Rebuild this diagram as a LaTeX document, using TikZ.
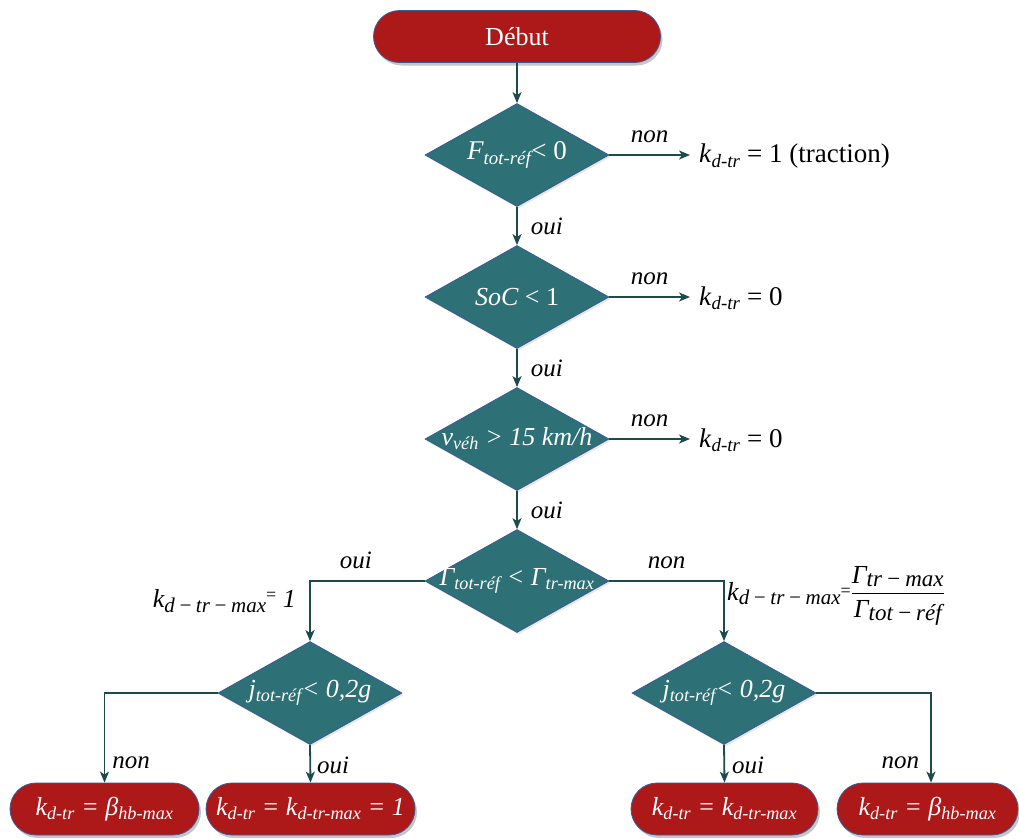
\documentclass[tikz,border=0pt]{standalone}
\usepackage{fontspec}
\setmainfont{Liberation Serif}
\usepackage{amsmath}
\usetikzlibrary{shapes.geometric,arrows.meta,shadows}
\definecolor{boxred}{HTML}{AD1818}
\definecolor{dteal}{HTML}{2D7075}
\definecolor{edgeblue}{HTML}{3A5B9A}
\definecolor{arrowc}{HTML}{1D4A4D}
\newcommand{\lo}[1]{\textsubscript{\itshape #1}}
\newcommand{\mlo}[1]{\raisebox{-0.35ex}{\fontsize{21}{21}\selectfont\itshape #1}}
\newcommand{\mlob}[1]{\raisebox{-0.3ex}{\fontsize{23}{23}\selectfont\itshape #1}}
\newcommand{\mm}{\,−\,}
\tikzset{
  term/.style={rectangle, rounded corners=26pt, fill=boxred, draw=edgeblue, line width=0.8pt,
    text=white, inner sep=0pt, minimum height=52pt,
    drop shadow={opacity=0.45, shadow xshift=2pt, shadow yshift=-3pt}},
  dec/.style={diamond, fill=dteal, draw=edgeblue, line width=0.8pt, minimum width=184pt,
    minimum height=103pt, inner sep=0pt, text=white, font=\fontsize{26}{30}\selectfont\itshape,
    drop shadow={opacity=0.2, shadow xshift=1.5pt, shadow yshift=-2pt}},
  conn/.style={draw=arrowc, line width=1.8pt, -{Stealth[length=11pt,width=9pt,inset=3pt]}},
  lbl/.style={font=\fontsize{25}{29}\selectfont\itshape, inner sep=2pt},
  res/.style={font=\fontsize{27}{32}\selectfont, anchor=west, inner sep=0pt},
  btxt/.style={font=\fontsize{26}{30}\selectfont\itshape}
}
\begin{document}
\begin{tikzpicture}[x=1pt,y=-1pt]
\useasboundingbox (0,0) rectangle (1019,838);

\node[term, minimum width=287pt, font=\fontsize{26}{30}\selectfont] (start) at (517,36.5) {Début};
\node[dec] (d1) at (517,155) {\makebox[0pt]{\fontsize{27}{30}\selectfont F\lo{tot-réf}{\upshape< 0}}};
\node[dec] (d2) at (517,297) {\makebox[0pt]{SoC {\upshape< 1}}};
\node[dec] (d3) at (517,439) {\makebox[0pt]{v\lo{véh} > 15 km/h}};
\node[dec] (d4) at (517,581) {\makebox[0pt]{Γ\lo{tot-réf} < Γ\lo{tr-max}}};
\node[dec] (d5) at (310,693) {\makebox[0pt]{j\lo{tot-réf}< 0,2g}};
\node[dec] (d6) at (724,693) {\makebox[0pt]{j\lo{tot-réf}< 0,2g}};

\node[res] (r1) at (699,156) {\textit{k}\lo{d-tr} = 1 (traction)};
\node[res] (r2) at (699,298) {\textit{k}\lo{d-tr} = 0};
\node[res] (r3) at (699,440) {\textit{k}\lo{d-tr} = 0};

\node[term, btxt, minimum width=189pt] (bA) at (104.5,809) {k\lo{d-tr} = β\lo{hb-max}};
\node[term, btxt, minimum width=209pt] (bB) at (310.5,809) {k\lo{d-tr} = k\lo{d-tr-max} = 1};
\node[term, btxt, minimum width=187pt] (bC) at (724.5,809) {k\lo{d-tr} = k\lo{d-tr-max}};
\node[term, btxt, minimum width=181pt] (bD) at (927.5,809) {k\lo{d-tr} = β\lo{hb-max}};

\node[anchor=east, inner sep=0pt, font=\fontsize{26}{30}\selectfont\itshape] (kl) at (296,601)
  {k\mlo{d\mm tr\mm max}\raisebox{0.6ex}{\fontsize{18}{18}\selectfont\upshape=} 1};
\node[anchor=west, inner sep=0pt, font=\fontsize{26}{30}\selectfont\itshape] (kr) at (727,596)
  {k\mlo{d\mm tr\mm max}\raisebox{0.3ex}{\fontsize{18}{18}\selectfont\upshape=}$\dfrac{\text{Γ\mlob{tr\mm max}}}{\text{Γ\mlob{tot\mm réf}}}$};

\draw[conn] (start.south) -- (d1.north);
\draw[conn] (d1.south) -- (d2.north) node[lbl, pos=0.5, right, xshift=11pt] {oui};
\draw[conn] (d2.south) -- (d3.north) node[lbl, pos=0.5, right, xshift=11pt] {oui};
\draw[conn] (d3.south) -- (d4.north) node[lbl, pos=0.5, right, xshift=11pt] {oui};

\draw[conn, shorten >=9pt] (d1.east) -- (d1.east -| r1.west) node[lbl, pos=0.45, above=9pt] {non};
\draw[conn, shorten >=9pt] (d2.east) -- (d2.east -| r2.west) node[lbl, pos=0.45, above=9pt] {non};
\draw[conn, shorten >=9pt] (d3.east) -- (d3.east -| r3.west) node[lbl, pos=0.45, above=9pt] {non};

\draw[conn] (d4.west) -| (d5.north) node[lbl, pos=0.3, above=9pt] {oui};
\draw[conn] (d4.east) -| (d6.north) node[lbl, pos=0.25, above=9pt] {non};

\draw[conn] (d5.west) -| (bA.north) node[lbl, pos=0.89, right, xshift=5pt] {non};
\draw[conn] (d5.south) -- (bB.north) node[lbl, pos=0.55, right, xshift=4pt] {oui};
\draw[conn] (d6.south) -- (bC.north) node[lbl, pos=0.55, right, xshift=5pt] {oui};
\draw[conn] (d6.east) -| ([xshift=3.5pt]bD.north) node[lbl, pos=0.89, left, xshift=-9pt] {non};
\end{tikzpicture}
\end{document}
